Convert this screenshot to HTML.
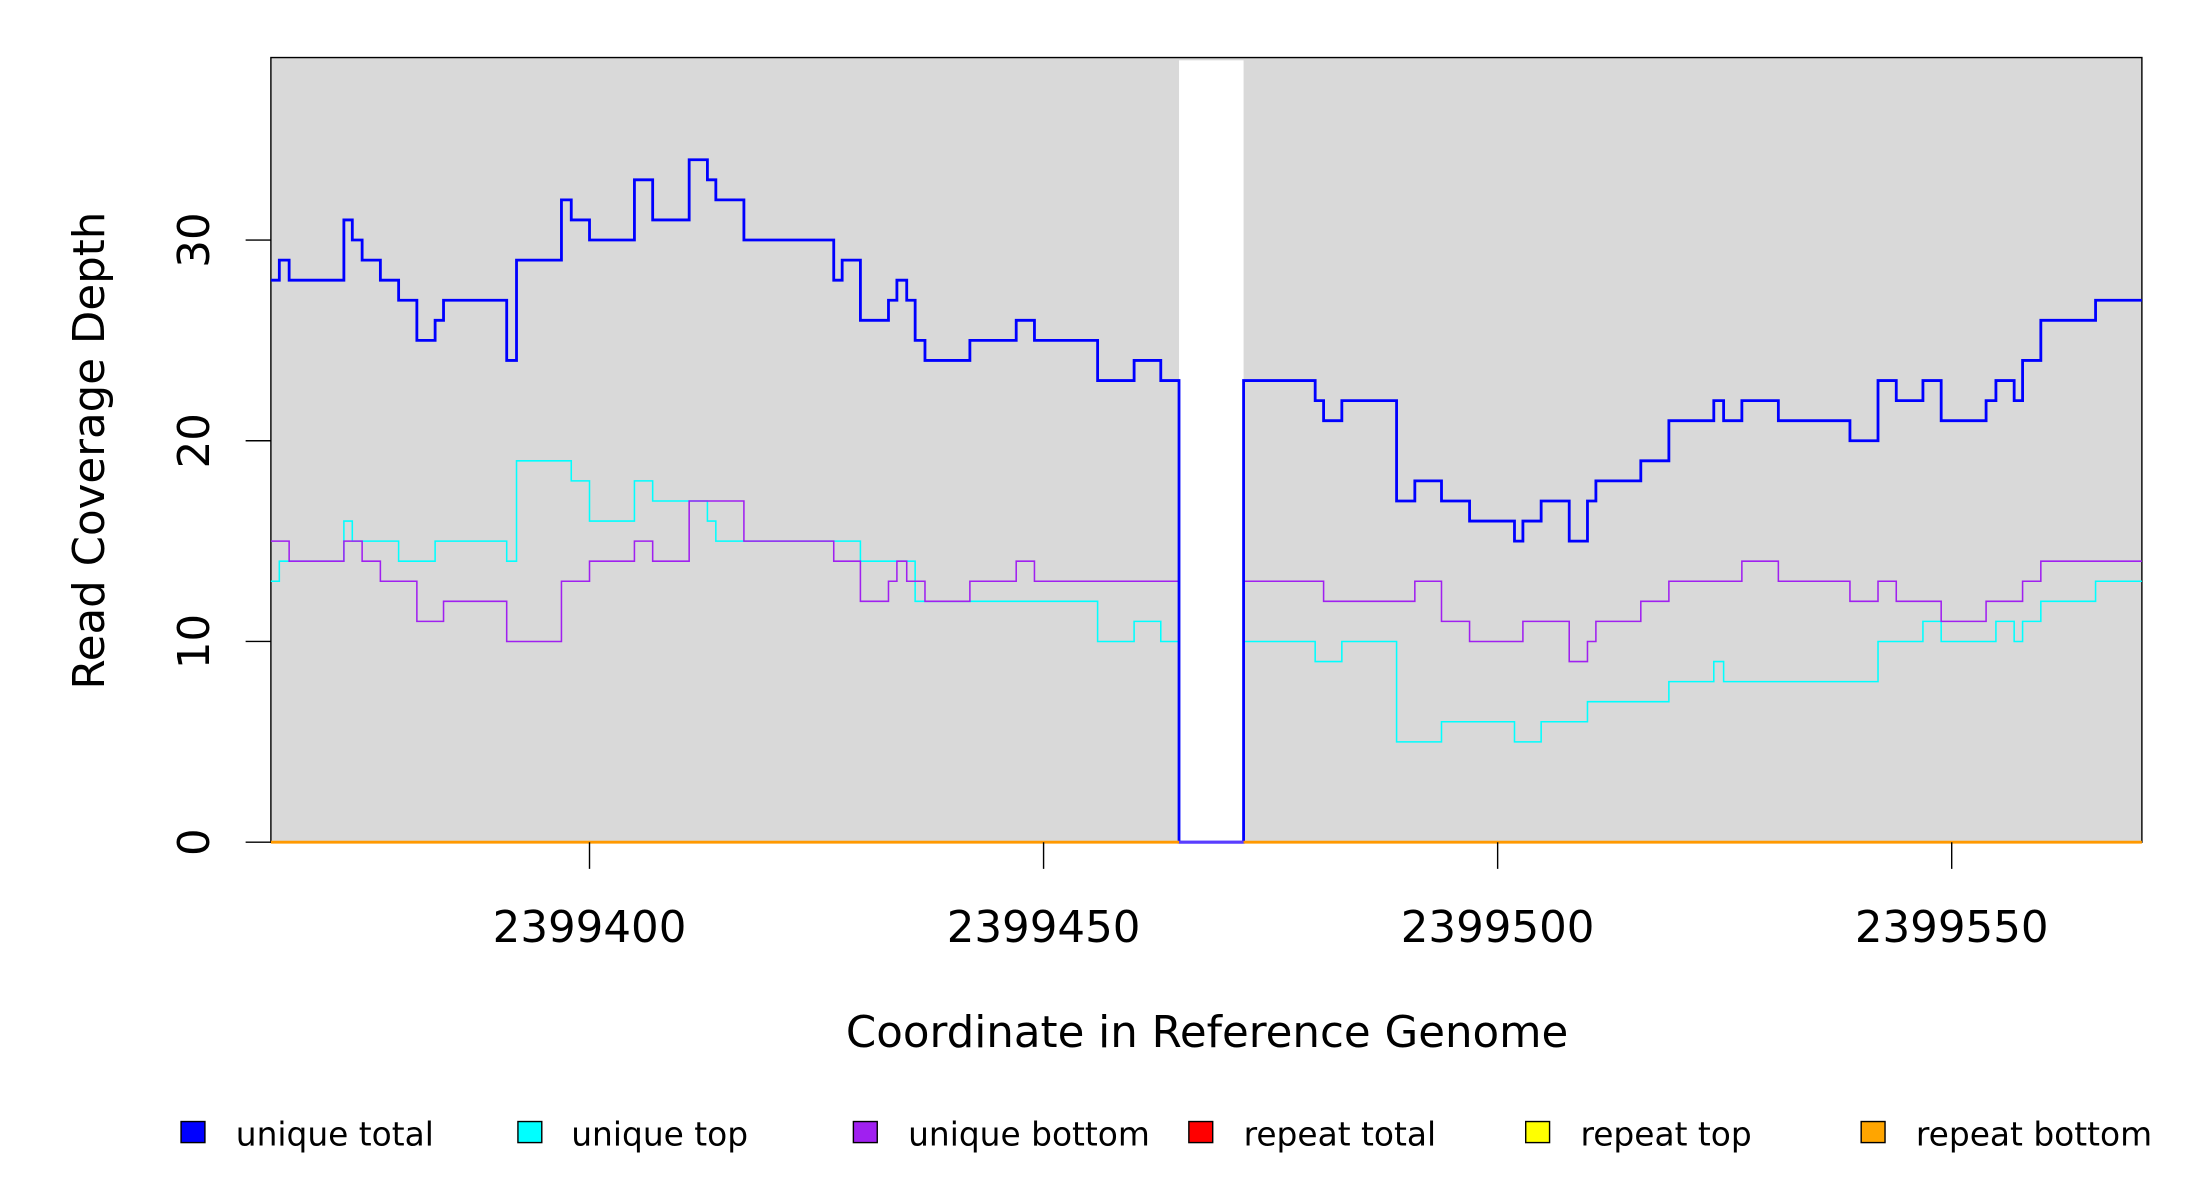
<!DOCTYPE html>
<html><head><meta charset="utf-8"><style>html,body{margin:0;padding:0;background:#fff}svg{display:block}</style></head>
<body>
<svg width="2200" height="1200" viewBox="0 0 1567.4 854.9" preserveAspectRatio="none" xmlns="http://www.w3.org/2000/svg" font-family="'DejaVu Sans','Liberation Sans',sans-serif">
<rect x="193" y="41" width="1333" height="559" fill="#d9d9d9"/>
<rect x="840" y="43" width="46" height="557" fill="#fff"/>
<rect x="193" y="41" width="1333" height="559" fill="none" stroke="#000" stroke-width="1"/>
<path d="M193 414.1 H199 V399.8 H245 V371.2 H251 V385.5 H284 V399.8 H310 V385.5 H361 V399.8 H368 V328.3 H407 V342.6 H420 V371.2 H452 V342.6 H465 V356.9 H504 V371.2 H510 V385.5 H600 V385.5 H613 V399.8 H652 V428.4 H782 V457 H808 V442.7 H827 V457 H840 V600 H886 V457 H937 V471.3 H956 V457 H995 V528.5 H1027 V514.2 H1079 V528.5 H1098 V514.2 H1131 V499.9 H1189 V485.6 H1221 V471.3 H1228 V485.6 H1338 V457 H1370 V442.7 H1383 V457 H1422 V442.7 H1435 V457 H1441 V442.7 H1454 V428.4 H1493 V414.1 H1526" fill="none" stroke="#00ffff" stroke-width="1.1"/>
<path d="M193 385.5 H206 V399.8 H245 V385.5 H258 V399.8 H271 V414.1 H297 V442.7 H316 V428.4 H361 V457 H400 V414.1 H420 V399.8 H452 V385.5 H465 V399.8 H491 V356.9 H530 V385.5 H594 V399.8 H613 V428.4 H633 V414.1 H639 V399.8 H646 V414.1 H659 V428.4 H691 V414.1 H724 V399.8 H737 V414.1 H840 V600 H886 V414.1 H943 V428.4 H1008 V414.1 H1027 V442.7 H1047 V457 H1085 V442.7 H1118 V471.3 H1131 V457 H1137 V442.7 H1169 V428.4 H1189 V414.1 H1241 V399.8 H1267 V414.1 H1318 V428.4 H1338 V414.1 H1351 V428.4 H1383 V442.7 H1415 V428.4 H1441 V414.1 H1454 V399.8 H1526" fill="none" stroke="#a020f0" stroke-width="1.1"/>
<path d="M193 199.6 H199 V185.3 H206 V199.6 H245 V156.7 H251 V171 H258 V185.3 H271 V199.6 H284 V213.9 H297 V242.5 H310 V228.2 H316 V213.9 H361 V256.8 H368 V185.3 H400 V142.4 H407 V156.7 H420 V171 H452 V128.1 H465 V156.7 H491 V113.8 H504 V128.1 H510 V142.4 H530 V171 H594 V199.6 H600 V185.3 H613 V228.2 H633 V213.9 H639 V199.6 H646 V213.9 H652 V242.5 H659 V256.8 H691 V242.5 H724 V228.2 H737 V242.5 H782 V271.1 H808 V256.8 H827 V271.1 H840 V600 H886 V271.1 H937 V285.4 H943 V299.7 H956 V285.4 H995 V356.9 H1008 V342.6 H1027 V356.9 H1047 V371.2 H1079 V385.5 H1085 V371.2 H1098 V356.9 H1118 V385.5 H1131 V356.9 H1137 V342.6 H1169 V328.3 H1189 V299.7 H1221 V285.4 H1228 V299.7 H1241 V285.4 H1267 V299.7 H1318 V314 H1338 V271.1 H1351 V285.4 H1370 V271.1 H1383 V299.7 H1415 V285.4 H1422 V271.1 H1435 V285.4 H1441 V256.8 H1454 V228.2 H1493 V213.9 H1526" fill="none" stroke="#0000ff" stroke-width="2"/>
<path d="M840 600 V600 H886" fill="none" stroke="#5a3cff" stroke-width="2"/>
<path d="M193 600 H840 M886 600 H1526" stroke="#ff9900" stroke-width="2"/>
<g stroke="#000" stroke-width="1">
<path d="M175 600 H193 M175 457 H193 M175 314 H193 M175 171 H193"/>
<path d="M420 600 V619 M743.5 600 V619 M1067 600 V619 M1390.5 600 V619"/>
</g>
<g font-size="31" text-anchor="middle" fill="#000">
<text transform="translate(149 600) rotate(-90)">0</text>
<text transform="translate(149 457) rotate(-90)">10</text>
<text transform="translate(149 314) rotate(-90)">20</text>
<text transform="translate(149 171) rotate(-90)">30</text>
<text x="420" y="671">2399400</text>
<text x="743.5" y="671">2399450</text>
<text x="1067" y="671">2399500</text>
<text x="1390.5" y="671">2399550</text>
<text x="860" y="746">Coordinate in Reference Genome</text>
<text transform="translate(74 321) rotate(-90)">Read Coverage Depth</text>
</g>
<g fill="#000" stroke="#000" stroke-width="1">
<rect x="129" y="799" width="17" height="15" fill="#0000ff"/>
<rect x="369" y="799" width="17" height="15" fill="#00ffff"/>
<rect x="608" y="799" width="17" height="15" fill="#a020f0"/>
<rect x="847" y="799" width="17" height="15" fill="#ff0000"/>
<rect x="1087" y="799" width="17" height="15" fill="#ffff00"/>
<rect x="1326" y="799" width="17" height="15" fill="#ffa500"/>
</g>
<g font-size="23.4" fill="#000">
<text x="168" y="816">unique total</text>
<text x="407" y="816">unique top</text>
<text x="647" y="816">unique bottom</text>
<text x="886" y="816">repeat total</text>
<text x="1126" y="816">repeat top</text>
<text x="1365" y="816">repeat bottom</text>
</g>
</svg>
</body></html>
